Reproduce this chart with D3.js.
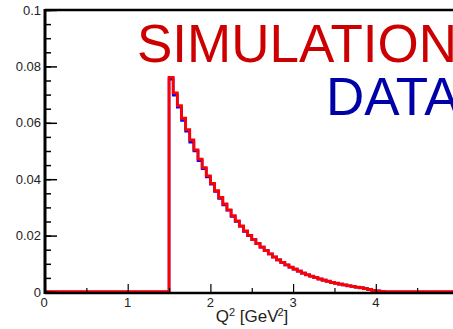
<!DOCTYPE html>
<html><head><meta charset="utf-8">
<script src="https://cdn.jsdelivr.net/npm/d3@7"></script>
<style>
html,body{margin:0;padding:0;background:#fff;overflow:hidden}
svg{display:block}
text{font-family:"Liberation Sans",Arial,Helvetica,sans-serif}
</style></head>
<body>
<svg id="c" width="453" height="329"></svg>
<script>
// ---- data ----
const binWidth = 0.05;
const binStart = 1.5;            // first non-empty bin edge
const xDomain = [0, 5];
const yDomain = [0, 0.1];
const yMajorTicks = [0, 0.02, 0.04, 0.06, 0.08, 0.1];
const yTickLabels = ["0", "0.02", "0.04", "0.06", "0.08", "0.1"];
const xMajorTicks = [0, 1, 2, 3, 4, 5];
const xLabelTicks = [0, 1, 2, 3, 4];
const xTickLabels = ["0", "1", "2", "3", "4"];
// bin contents from Q^2 = 1.50 in steps of 0.05
const simValues = [
  0.0760, 0.0705, 0.0660, 0.0615, 0.0575, 0.0538, 0.0503, 0.0470, 0.0440, 0.0411,
  0.0384, 0.0358, 0.0334, 0.0311, 0.0290, 0.0270, 0.0251, 0.0233, 0.0216, 0.0200,
  0.0185, 0.0171, 0.0158, 0.0146, 0.0134, 0.0123, 0.0113, 0.0104, 0.0095, 0.0087,
  0.0080, 0.0073, 0.0066, 0.0060, 0.0055, 0.0050, 0.0045, 0.0041, 0.0037, 0.0033,
  0.0030, 0.0027, 0.0024, 0.0021, 0.0019, 0.0016, 0.0014, 0.0011, 0.0008, 0.0005,
  0.0002, 0.0001
];
const dataValues = [
  0.0755, 0.0698, 0.0655, 0.0608, 0.0570, 0.0531, 0.0500, 0.0466, 0.0437, 0.0408,
  0.0382, 0.0357, 0.0332, 0.0309, 0.0290, 0.0268, 0.0250, 0.0233, 0.0215, 0.0200,
  0.0186, 0.0172, 0.0159, 0.0147, 0.0135, 0.0124, 0.0114, 0.0105, 0.0096, 0.0088,
  0.0081, 0.0074, 0.0067, 0.0061, 0.0056, 0.0051, 0.0046, 0.0042, 0.0038, 0.0034,
  0.0031, 0.0028, 0.0025, 0.0022, 0.0020, 0.0017, 0.0015, 0.0012, 0.0009, 0.0006,
  0.0004, 0.0002
];
const xTitle = "Q";
const legend = [{label: "SIMULATION", color: "#cc0000"}, {label: "DATA", color: "#0000a8"}];

// ---- chart ----
const svg = d3.select("#c");
const x = d3.scaleLinear().domain(xDomain).range([45, 458.5]);
const y = d3.scaleLinear().domain(yDomain).range([292, 10]);

function stepPoints(vals) {
  const pts = [[xDomain[0], 0], [binStart, 0]];
  vals.forEach((v, i) => pts.push([binStart + i * binWidth, v]));
  const end = binStart + vals.length * binWidth;
  pts.push([end, 0]);
  pts.push([xDomain[1], 0]);
  return pts;
}
const line = d3.line().x(d => x(d[0])).y(d => y(d[1])).curve(d3.curveStepAfter);

// histograms
svg.append("path").attr("d", line(stepPoints(dataValues)))
  .attr("fill", "none").attr("stroke", "#0000ff").attr("stroke-width", 2.6);
svg.append("path").attr("d", line(stepPoints(simValues)))
  .attr("fill", "none").attr("stroke", "#ff0000").attr("stroke-width", 2.8)
  .attr("transform", "translate(0,-0.3)");

// frame lines
svg.append("line").attr("x1", x(0)).attr("x2", 453).attr("y1", y(0.1)).attr("y2", y(0.1))
  .attr("stroke", "#000").attr("stroke-width", 2.5);
svg.append("line").attr("x1", x(0)).attr("x2", 453).attr("y1", y(0) + 1).attr("y2", y(0) + 1)
  .attr("stroke", "#000").attr("stroke-width", 2.5);
svg.append("line").attr("x1", x(0)).attr("x2", x(0)).attr("y1", y(0.1) - 1).attr("y2", y(0) + 2)
  .attr("stroke", "#000").attr("stroke-width", 3);

// y axis ticks (inward)
const yAxis = d3.axisRight(y).tickValues(yMajorTicks).tickSize(12).tickFormat("");
const yMinor = d3.axisRight(y).tickValues(d3.range(0, 0.1001, 0.005)).tickSize(6).tickFormat("");
[yMinor, yAxis].forEach(ax => {
  const g = svg.append("g").attr("transform", `translate(${x(0)},0)`).call(ax);
  g.select(".domain").remove();
  g.selectAll("line").attr("stroke", "#000").attr("stroke-width", 1.5);
});
svg.append("g").selectAll("text").data(yMajorTicks).join("text")
  .attr("x", 41).attr("y", d => y(d) + 4.5).attr("text-anchor", "end")
  .attr("font-size", 13).attr("fill", "#222").text((d, i) => yTickLabels[i]);

// x axis ticks (inward, upward)
const xAxis = d3.axisTop(x).tickValues(xMajorTicks).tickSize(8).tickFormat("");
const xMinor = d3.axisTop(x).tickValues(d3.range(0.5, 5, 1)).tickSize(4).tickFormat("");
[xMinor, xAxis].forEach(ax => {
  const g = svg.append("g").attr("transform", `translate(0,${y(0)})`).call(ax);
  g.select(".domain").remove();
  g.selectAll("line").attr("stroke", "#000").attr("stroke-width", 1.2);
});
svg.append("g").selectAll("text").data(xLabelTicks).join("text")
  .attr("x", d => x(d) + (d === 0 ? -1 : 0)).attr("y", 307).attr("text-anchor", "middle")
  .attr("font-size", 13).attr("fill", "#222").text((d, i) => xTickLabels[i]);

// x title
const t = svg.append("text").attr("x", 252).attr("y", 322).attr("text-anchor", "middle")
  .attr("font-size", 17).attr("fill", "#222");
t.append("tspan").text(xTitle);
t.append("tspan").attr("dy", -6).attr("font-size", 11).text("2");
t.append("tspan").attr("dy", 6).text(" [GeV");
t.append("tspan").attr("dy", -6).attr("font-size", 11).attr("dx", -1).text("2");
t.append("tspan").attr("dy", 6).text("]");

// legend texts
svg.append("text").attr("x", 137).attr("y", 61.5).attr("font-size", 53)
  .attr("fill", legend[0].color).text(legend[0].label);
svg.append("text").attr("x", 326).attr("y", 115).attr("font-size", 53)
  .attr("fill", legend[1].color).text(legend[1].label);
</script>
</body></html>
